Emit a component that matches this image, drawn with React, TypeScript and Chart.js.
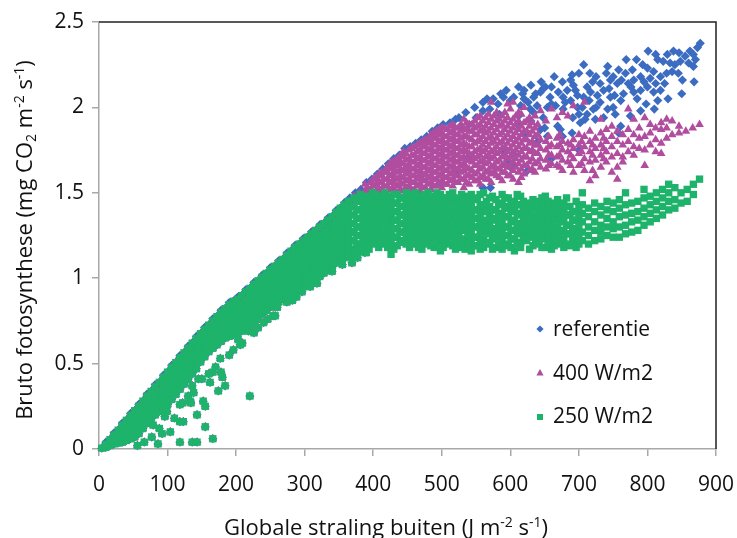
import React, { useEffect, useRef } from "react";
import { Chart, registerables } from "chart.js";

Chart.register(...registerables);

const FONT = '"Open Sans", "Noto Sans", sans-serif';

// ---- axes ----
const xMin = 0;
const xMax = 900;
const xStep = 100;
const yMin = 0;
const yMax = 2.5;
const yStep = 0.5;

const seriesLabels = ["referentie", "400 W/m2", "250 W/m2"];
const seriesColors = ["#3b6cc2", "#b04d9f", "#1db36a"];

// ---- shared low-light band (all three treatments coincide), columns: [x, ys] ----
const bandColumns: [number, number[]][] = [
  [4, [0.005]],
  [10, [0.01, 0.027]],
  [16, [0.02, 0.055]],
  [22, [0.03, 0.06, 0.083]],
  [28, [0.035, 0.07, 0.11]],
  [34, [0.04, 0.08, 0.11, 0.14]],
  [40, [0.05, 0.09, 0.13, 0.168]],
  [46, [0.06, 0.1, 0.14, 0.17, 0.196]],
  [52, [0.07, 0.11, 0.15, 0.19, 0.224]],
  [58, [0.09, 0.13, 0.17, 0.21, 0.25]],
  [64, [0.12, 0.16, 0.2, 0.24, 0.28]],
  [70, [0.15, 0.19, 0.23, 0.27, 0.31]],
  [76, [0.18, 0.22, 0.26, 0.3, 0.337]],
  [82, [0.2, 0.24, 0.28, 0.32, 0.365]],
  [88, [0.22, 0.26, 0.3, 0.34, 0.39]],
  [94, [0.24, 0.28, 0.32, 0.36, 0.39, 0.42]],
  [100, [0.26, 0.3, 0.34, 0.38, 0.42, 0.45]],
  [106, [0.29, 0.33, 0.37, 0.41, 0.44, 0.478]],
  [112, [0.32, 0.36, 0.4, 0.44, 0.47, 0.506]],
  [118, [0.35, 0.39, 0.43, 0.47, 0.5, 0.535]],
  [124, [0.38, 0.42, 0.46, 0.5, 0.53, 0.563]],
  [130, [0.41, 0.45, 0.49, 0.52, 0.56, 0.59]],
  [136, [0.44, 0.48, 0.52, 0.55, 0.59, 0.62]],
  [142, [0.47, 0.51, 0.55, 0.58, 0.61, 0.647]],
  [148, [0.51, 0.55, 0.58, 0.61, 0.645, 0.675]],
  [154, [0.54, 0.58, 0.61, 0.64, 0.67, 0.7]],
  [160, [0.57, 0.6, 0.64, 0.67, 0.7, 0.725]],
  [166, [0.59, 0.63, 0.67, 0.71, 0.75]],
  [172, [0.61, 0.65, 0.69, 0.73, 0.775]],
  [178, [0.63, 0.67, 0.7, 0.73, 0.77, 0.8]],
  [184, [0.65, 0.69, 0.72, 0.75, 0.79, 0.822]],
  [190, [0.66, 0.7, 0.74, 0.78, 0.81, 0.845]],
  [196, [0.67, 0.71, 0.75, 0.79, 0.83, 0.865]],
  [202, [0.68, 0.72, 0.76, 0.8, 0.84, 0.876]],
  [208, [0.69, 0.73, 0.77, 0.81, 0.85, 0.898]],
  [214, [0.71, 0.75, 0.79, 0.83, 0.87, 0.92]],
  [220, [0.72, 0.76, 0.8, 0.84, 0.88, 0.92, 0.94]],
  [226, [0.74, 0.78, 0.82, 0.86, 0.9, 0.93, 0.963]],
  [232, [0.76, 0.8, 0.84, 0.88, 0.92, 0.95, 0.985]],
  [238, [0.79, 0.83, 0.87, 0.91, 0.95, 0.98, 1.006]],
  [244, [0.81, 0.85, 0.89, 0.93, 0.97, 1.0, 1.028]],
  [250, [0.83, 0.87, 0.91, 0.95, 0.99, 1.02, 1.05]],
  [256, [0.84, 0.88, 0.92, 0.96, 1.0, 1.04, 1.07]],
  [262, [0.86, 0.9, 0.94, 0.98, 1.02, 1.06, 1.09]],
  [268, [0.88, 0.92, 0.96, 1.0, 1.04, 1.08, 1.11]],
  [274, [0.89, 0.93, 0.97, 1.01, 1.05, 1.09, 1.135]],
  [280, [0.91, 0.95, 0.99, 1.03, 1.07, 1.11, 1.158]],
  [286, [0.92, 0.96, 1.0, 1.04, 1.08, 1.12, 1.15, 1.18]],
  [292, [0.94, 0.98, 1.02, 1.06, 1.1, 1.14, 1.17, 1.2]],
  [298, [0.95, 0.99, 1.03, 1.07, 1.11, 1.15, 1.19, 1.22]],
  [304, [0.97, 1.01, 1.05, 1.09, 1.13, 1.17, 1.21, 1.24]],
  [310, [0.98, 1.02, 1.06, 1.1, 1.14, 1.18, 1.22, 1.26]],
  [316, [1.0, 1.04, 1.08, 1.12, 1.16, 1.2, 1.24, 1.28]],
  [322, [1.01, 1.05, 1.09, 1.13, 1.17, 1.21, 1.25, 1.3]],
  [328, [1.03, 1.07, 1.11, 1.15, 1.19, 1.23, 1.27, 1.32]],
  [334, [1.05, 1.09, 1.13, 1.17, 1.21, 1.25, 1.29, 1.34]],
  [340, [1.07, 1.11, 1.15, 1.19, 1.23, 1.27, 1.31, 1.36]],
  [346, [1.09, 1.13, 1.17, 1.21, 1.25, 1.29, 1.33, 1.385]],
  [352, [1.11, 1.15, 1.19, 1.23, 1.27, 1.31, 1.35, 1.39, 1.41]],
  [358, [1.12, 1.16, 1.2, 1.24, 1.28, 1.32, 1.36, 1.4, 1.43]],
  [364, [1.13, 1.17, 1.21, 1.25, 1.29, 1.33, 1.37, 1.41, 1.45]],
];

// scattered low points below the band (all treatments)
const lowOutliers: [number, number][] = [
  [86, 0.03], [118, 0.04], [136, 0.04], [143, 0.04], [166, 0.06], [155, 0.13],
  [143, 0.2], [155, 0.25], [174, 0.34], [184, 0.37], [220, 0.31], [162, 0.39],
  [178, 0.45], [166, 0.45], [130, 0.31], [134, 0.27], [118, 0.16], [123, 0.16],
  [92, 0.09], [104, 0.1], [77, 0.07], [88, 0.12], [79, 0.14], [96, 0.19],
  [99, 0.22], [118, 0.26], [122, 0.27], [145, 0.41], [150, 0.41], [136, 0.37],
  [177, 0.53], [180, 0.42], [209, 0.62], [203, 0.64], [218, 0.69], [206, 0.61],
  [232, 0.71], [254, 0.78], [260, 0.83], [274, 0.86], [296, 0.92], [318, 0.97],
  [133, 0.28], [257, 0.78], [340, 1.04], [330, 1.05], [190, 0.55], [196, 0.58],
  [240, 0.74], [282, 0.87], [66, 0.04], [56, 0.02], [110, 0.18], [138, 0.33],
  [152, 0.28], [170, 0.48], [160, 0.44], [226, 0.68], [246, 0.76], [288, 0.89],
  [308, 0.95], [355, 1.08], [369, 1.09], [377, 1.12], [388, 1.15],
];

// ---- 250 W/m2 plateau ----
const greenColumns: [number, number[]][] = [
  [372, [1.13, 1.17, 1.22, 1.27, 1.32, 1.37, 1.42, 1.47]],
  [381, [1.16, 1.2, 1.25, 1.3, 1.35, 1.4, 1.45, 1.49]],
  [390, [1.15, 1.19, 1.24, 1.29, 1.34, 1.39, 1.44, 1.48]],
  [399, [1.22, 1.26, 1.31, 1.36, 1.41, 1.46, 1.5]],
  [408, [1.18, 1.23, 1.28, 1.33, 1.38, 1.43, 1.48]],
  [417, [1.2, 1.25, 1.3, 1.35, 1.4, 1.45, 1.5]],
  [426, [1.14, 1.21, 1.26, 1.31, 1.36, 1.41, 1.46]],
  [435, [1.19, 1.24, 1.29, 1.34, 1.39, 1.44, 1.49]],
  [444, [1.22, 1.27, 1.32, 1.37, 1.42, 1.47]],
  [453, [1.18, 1.23, 1.28, 1.33, 1.38, 1.43, 1.49]],
  [462, [1.2, 1.25, 1.3, 1.35, 1.4, 1.45, 1.5]],
  [471, [1.17, 1.22, 1.27, 1.32, 1.37, 1.42, 1.47]],
  [480, [1.21, 1.26, 1.31, 1.36, 1.41, 1.46, 1.5]],
  [489, [1.18, 1.23, 1.28, 1.33, 1.38, 1.43, 1.48]],
  [498, [1.16, 1.2, 1.25, 1.3, 1.35, 1.4, 1.45, 1.49]],
  [507, [1.22, 1.27, 1.32, 1.37, 1.42, 1.47]],
  [516, [1.19, 1.24, 1.29, 1.34, 1.39, 1.44, 1.5]],
  [525, [1.2, 1.26, 1.31, 1.36, 1.41, 1.46]],
  [534, [1.17, 1.22, 1.28, 1.33, 1.38, 1.43, 1.48]],
  [543, [1.16, 1.21, 1.27, 1.32, 1.37, 1.44, 1.49]],
  [552, [1.19, 1.24, 1.3, 1.35, 1.4, 1.46]],
  [561, [1.18, 1.23, 1.29, 1.34, 1.39, 1.43, 1.5]],
  [570, [1.2, 1.26, 1.31, 1.37, 1.42, 1.47]],
  [579, [1.18, 1.24, 1.28, 1.35, 1.4, 1.46]],
  [588, [1.17, 1.22, 1.27, 1.33, 1.38, 1.44, 1.49]],
  [597, [1.2, 1.25, 1.3, 1.36, 1.41, 1.47]],
  [606, [1.16, 1.23, 1.28, 1.34, 1.4, 1.45]],
  [615, [1.18, 1.21, 1.27, 1.32, 1.38, 1.43, 1.48]],
  [624, [1.22, 1.26, 1.31, 1.37, 1.42]],
  [633, [1.19, 1.25, 1.3, 1.35, 1.41, 1.46]],
  [642, [1.2, 1.24, 1.29, 1.34, 1.39, 1.45]],
  [651, [1.18, 1.23, 1.28, 1.33, 1.38, 1.43, 1.48]],
  [660, [1.17, 1.22, 1.27, 1.32, 1.37, 1.42]],
  [669, [1.2, 1.25, 1.3, 1.36, 1.41, 1.46]],
  [678, [1.18, 1.23, 1.28, 1.35, 1.4, 1.44]],
  [687, [1.19, 1.26, 1.31, 1.37, 1.42]],
  [696, [1.18, 1.24, 1.29, 1.34, 1.39, 1.45]],
  [705, [1.22, 1.27, 1.33, 1.38, 1.43, 1.5]],
  [714, [1.2, 1.25, 1.3, 1.36, 1.41]],
  [723, [1.22, 1.28, 1.33, 1.39, 1.44]],
  [732, [1.23, 1.27, 1.31, 1.37, 1.42]],
  [741, [1.25, 1.3, 1.35, 1.4, 1.45]],
  [750, [1.24, 1.29, 1.33, 1.39, 1.44]],
  [759, [1.24, 1.3, 1.36, 1.41, 1.46]],
  [768, [1.26, 1.31, 1.37, 1.43, 1.5]],
  [777, [1.27, 1.33, 1.38, 1.44]],
  [786, [1.28, 1.34, 1.39, 1.45]],
  [795, [1.31, 1.36, 1.41, 1.47, 1.52]],
  [804, [1.33, 1.38, 1.43, 1.48]],
  [813, [1.35, 1.4, 1.45, 1.5]],
  [822, [1.37, 1.42, 1.47, 1.52]],
  [831, [1.4, 1.45, 1.5, 1.55]],
  [840, [1.41, 1.46, 1.53]],
  [849, [1.44, 1.5]],
  [858, [1.45, 1.52]],
  [867, [1.49, 1.55]],
  [876, [1.58]],
];

// extra 250 W/m2 points between the columns above (dense part of the plateau)
const greenFill: [number, number[]][] = [
  [376, [1.15, 1.2, 1.25, 1.3, 1.35, 1.4, 1.45]],
  [385, [1.18, 1.23, 1.28, 1.33, 1.38, 1.43, 1.47]],
  [394, [1.17, 1.21, 1.27, 1.32, 1.37, 1.42, 1.46]],
  [403, [1.2, 1.24, 1.29, 1.34, 1.39, 1.44, 1.49]],
  [412, [1.21, 1.26, 1.31, 1.36, 1.41, 1.46]],
  [421, [1.18, 1.23, 1.28, 1.33, 1.38, 1.43, 1.48]],
  [430, [1.17, 1.24, 1.29, 1.34, 1.39, 1.44, 1.49]],
  [439, [1.21, 1.27, 1.32, 1.37, 1.42, 1.47]],
  [448, [1.2, 1.25, 1.3, 1.35, 1.4, 1.45, 1.5]],
  [457, [1.21, 1.26, 1.31, 1.36, 1.41, 1.46]],
  [466, [1.18, 1.23, 1.28, 1.33, 1.38, 1.43, 1.48]],
  [475, [1.2, 1.25, 1.3, 1.35, 1.4, 1.45, 1.49]],
  [484, [1.19, 1.24, 1.29, 1.34, 1.39, 1.44, 1.48]],
  [493, [1.21, 1.26, 1.31, 1.36, 1.41, 1.46, 1.5]],
  [502, [1.18, 1.23, 1.28, 1.33, 1.38, 1.43, 1.47]],
  [511, [1.2, 1.25, 1.3, 1.35, 1.4, 1.45, 1.49]],
  [520, [1.17, 1.22, 1.27, 1.32, 1.37, 1.42, 1.47]],
  [529, [1.18, 1.23, 1.29, 1.34, 1.39, 1.44, 1.49]],
  [538, [1.2, 1.25, 1.31, 1.36, 1.41, 1.46]],
  [547, [1.19, 1.24, 1.3, 1.35, 1.4, 1.47]],
  [556, [1.17, 1.22, 1.27, 1.33, 1.38, 1.43, 1.49]],
  [565, [1.21, 1.27, 1.33, 1.39, 1.45]],
  [574, [1.17, 1.23, 1.29, 1.34, 1.4, 1.48]],
  [583, [1.2, 1.26, 1.31, 1.37, 1.43]],
  [592, [1.19, 1.25, 1.3, 1.36, 1.42, 1.47]],
  [601, [1.18, 1.23, 1.28, 1.33, 1.39, 1.44]],
  [610, [1.2, 1.26, 1.31, 1.37, 1.43, 1.49]],
  [619, [1.24, 1.29, 1.35, 1.4, 1.45]],
  [628, [1.17, 1.24, 1.28, 1.33, 1.39, 1.44]],
  [637, [1.22, 1.27, 1.32, 1.37, 1.43]],
  [646, [1.18, 1.26, 1.31, 1.36, 1.41, 1.47]],
  [655, [1.2, 1.25, 1.3, 1.35, 1.4, 1.45]],
  [664, [1.19, 1.24, 1.29, 1.34, 1.39, 1.44]],
  [673, [1.22, 1.27, 1.33, 1.38, 1.43]],
  [682, [1.2, 1.26, 1.31, 1.37, 1.42, 1.47]],
  [691, [1.22, 1.28, 1.34, 1.39]],
  [700, [1.2, 1.26, 1.31, 1.36, 1.41]],
];

// ---- 400 W/m2 upper cloud ----
const magentaColumns: [number, number[]][] = [
  [372, [1.44, 1.48]],
  [380, [1.46, 1.5]],
  [388, [1.47, 1.51, 1.55]],
  [396, [1.48, 1.52, 1.56]],
  [404, [1.47, 1.51, 1.55, 1.59]],
  [412, [1.48, 1.52, 1.56, 1.6, 1.62]],
  [420, [1.5, 1.54, 1.58, 1.62, 1.65]],
  [428, [1.49, 1.53, 1.57, 1.61, 1.65, 1.68]],
  [436, [1.5, 1.54, 1.58, 1.62, 1.66, 1.7]],
  [444, [1.51, 1.55, 1.59, 1.63, 1.67, 1.71, 1.74]],
  [452, [1.5, 1.54, 1.58, 1.62, 1.66, 1.7, 1.75]],
  [460, [1.52, 1.56, 1.6, 1.64, 1.68, 1.72, 1.77]],
  [468, [1.51, 1.55, 1.59, 1.63, 1.67, 1.71, 1.75, 1.79]],
  [476, [1.53, 1.57, 1.61, 1.65, 1.69, 1.73, 1.77, 1.81]],
  [484, [1.52, 1.56, 1.6, 1.64, 1.68, 1.72, 1.76, 1.8, 1.84]],
  [492, [1.54, 1.58, 1.62, 1.66, 1.7, 1.74, 1.78, 1.82, 1.86]],
  [500, [1.53, 1.57, 1.61, 1.65, 1.69, 1.73, 1.77, 1.81, 1.85, 1.88]],
  [508, [1.55, 1.59, 1.63, 1.67, 1.71, 1.75, 1.79, 1.83, 1.87]],
  [516, [1.54, 1.58, 1.62, 1.66, 1.7, 1.74, 1.78, 1.82, 1.86, 1.9]],
  [524, [1.56, 1.6, 1.64, 1.68, 1.72, 1.76, 1.8, 1.84, 1.88]],
  [532, [1.53, 1.58, 1.63, 1.67, 1.71, 1.75, 1.79, 1.83, 1.87, 1.93]],
  [540, [1.55, 1.6, 1.64, 1.69, 1.73, 1.77, 1.82, 1.86, 1.9]],
  [548, [1.57, 1.61, 1.66, 1.7, 1.74, 1.79, 1.84, 1.88, 1.92]],
  [556, [1.55, 1.59, 1.64, 1.68, 1.72, 1.76, 1.81, 1.86, 1.9, 1.95]],
  [564, [1.58, 1.62, 1.67, 1.71, 1.75, 1.8, 1.85, 1.89, 1.94]],
  [572, [1.56, 1.61, 1.65, 1.7, 1.74, 1.79, 1.83, 1.88, 1.93, 2.03]],
  [580, [1.6, 1.64, 1.68, 1.73, 1.77, 1.82, 1.87, 1.92, 1.97]],
  [588, [1.57, 1.62, 1.66, 1.71, 1.76, 1.8, 1.85, 1.9, 1.95]],
  [596, [1.6, 1.65, 1.7, 1.74, 1.79, 1.84, 1.89, 1.94, 2.02]],
  [604, [1.58, 1.63, 1.68, 1.73, 1.78, 1.83, 1.88, 1.93, 2.03]],
  [612, [1.56, 1.62, 1.67, 1.72, 1.77, 1.82, 1.87, 1.92, 1.97]],
  [620, [1.61, 1.66, 1.71, 1.76, 1.81, 1.86, 1.91, 2.0]],
  [628, [1.63, 1.68, 1.74, 1.79, 1.84, 1.89, 1.94]],
  [636, [1.62, 1.67, 1.73, 1.78, 1.83, 1.88, 1.95]],
  [644, [1.65, 1.7, 1.76, 1.81, 1.98]],
  [652, [1.64, 1.69, 1.75, 1.8, 1.92]],
  [660, [1.67, 1.72, 1.78, 1.99]],
  [668, [1.66, 1.71, 1.77, 1.82, 1.94]],
  [676, [1.63, 1.69, 1.75, 1.8, 1.97]],
  [684, [1.68, 1.74, 1.79, 1.95]],
  [692, [1.62, 1.7, 1.76, 1.81, 2.01]],
  [700, [1.66, 1.73, 1.78, 1.84]],
  [708, [1.63, 1.7, 1.77, 1.83, 2.03]],
  [716, [1.57, 1.68, 1.74, 1.8, 1.86]],
  [724, [1.6, 1.69, 1.76, 1.82]],
  [732, [1.65, 1.72, 1.78, 1.85, 1.93]],
  [740, [1.68, 1.74, 1.8, 1.87]],
  [748, [1.62, 1.71, 1.77, 1.83, 1.89]],
  [756, [1.58, 1.65, 1.73, 1.8, 1.86]],
  [764, [1.68, 1.71, 1.78, 1.84]],
  [772, [1.74, 1.8, 1.87, 1.99]],
  [780, [1.72, 1.77, 1.84, 1.93]],
  [788, [1.76, 1.82, 1.88]],
  [796, [1.66, 1.75, 1.83, 1.94]],
  [804, [1.78, 1.85, 1.9]],
  [812, [1.74, 1.81, 1.88]],
  [820, [1.73, 1.79, 1.87, 1.91]],
  [828, [1.82, 1.88, 1.93]],
  [836, [1.84, 1.92]],
  [846, [1.85, 1.89]],
  [856, [1.86]],
  [866, [1.88]],
  [876, [1.9]],
];

// extra 400 W/m2 points between the columns above (dense part of the cloud)
const magentaFill: [number, number[]][] = [
  [392, [1.49, 1.53]],
  [400, [1.5, 1.54, 1.58]],
  [408, [1.5, 1.53, 1.57, 1.61]],
  [416, [1.5, 1.54, 1.58, 1.62]],
  [424, [1.52, 1.56, 1.6, 1.64, 1.67]],
  [432, [1.51, 1.55, 1.59, 1.63, 1.67, 1.69]],
  [440, [1.52, 1.56, 1.6, 1.64, 1.68, 1.72]],
  [448, [1.53, 1.57, 1.61, 1.65, 1.69, 1.73]],
  [456, [1.52, 1.56, 1.6, 1.64, 1.68, 1.72, 1.76]],
  [464, [1.54, 1.58, 1.62, 1.66, 1.7, 1.74, 1.78]],
  [472, [1.53, 1.57, 1.61, 1.65, 1.69, 1.73, 1.77, 1.8]],
  [480, [1.55, 1.59, 1.63, 1.67, 1.71, 1.75, 1.79, 1.82]],
  [488, [1.54, 1.58, 1.62, 1.66, 1.7, 1.74, 1.78, 1.82, 1.85]],
  [496, [1.56, 1.6, 1.64, 1.68, 1.72, 1.76, 1.8, 1.84, 1.87]],
  [504, [1.55, 1.59, 1.63, 1.67, 1.71, 1.75, 1.79, 1.83, 1.88]],
  [512, [1.57, 1.61, 1.65, 1.69, 1.73, 1.77, 1.81, 1.85, 1.89]],
  [520, [1.56, 1.6, 1.64, 1.68, 1.72, 1.76, 1.8, 1.84, 1.88]],
  [528, [1.58, 1.62, 1.66, 1.7, 1.74, 1.78, 1.82, 1.86, 1.9]],
  [536, [1.56, 1.6, 1.65, 1.69, 1.74, 1.78, 1.83, 1.87, 1.91]],
  [544, [1.59, 1.63, 1.68, 1.72, 1.77, 1.81, 1.86, 1.9]],
  [552, [1.57, 1.62, 1.66, 1.71, 1.75, 1.8, 1.84, 1.89, 1.94]],
  [560, [1.6, 1.65, 1.69, 1.74, 1.78, 1.83, 1.87, 1.92]],
  [568, [1.58, 1.63, 1.68, 1.72, 1.77, 1.82, 1.86, 1.91, 1.96]],
  [576, [1.62, 1.66, 1.71, 1.75, 1.8, 1.85, 1.9, 1.95]],
  [584, [1.59, 1.64, 1.69, 1.74, 1.79, 1.84, 1.89, 1.93]],
  [592, [1.62, 1.67, 1.72, 1.77, 1.82, 1.87, 1.92, 1.97]],
  [600, [1.6, 1.66, 1.71, 1.76, 1.81, 1.86, 1.91, 1.99]],
  [608, [1.65, 1.7, 1.75, 1.8, 1.85, 1.9, 1.95]],
  [616, [1.59, 1.64, 1.69, 1.74, 1.79, 1.84, 1.89, 1.96]],
  [624, [1.66, 1.71, 1.76, 1.81, 1.86, 1.92]],
  [632, [1.64, 1.7, 1.75, 1.8, 1.86, 1.91]],
  [640, [1.68, 1.73, 1.78, 1.84, 1.9]],
  [656, [1.66, 1.72, 1.77, 1.83]],
  [672, [1.65, 1.72, 1.78, 1.84]],
  [688, [1.66, 1.72, 1.78]],
  [704, [1.67, 1.74, 1.8]],
  [720, [1.63, 1.72, 1.78]],
  [736, [1.7, 1.76, 1.82]],
];

// ---- referentie: top edge of the band and upper cloud ----
const blueTopEdge: [number, number][] = [
  [10, 0.04], [22, 0.095], [34, 0.152], [46, 0.208], [58, 0.262], [70, 0.322],
  [82, 0.377], [94, 0.432], [106, 0.49], [118, 0.547], [130, 0.602], [142, 0.659],
  [154, 0.712], [166, 0.762], [178, 0.812], [190, 0.857], [202, 0.888], [214, 0.932],
  [226, 0.975], [238, 1.018], [250, 1.062], [262, 1.102], [274, 1.147], [286, 1.192],
  [298, 1.232], [310, 1.272], [322, 1.312], [334, 1.352], [346, 1.397], [358, 1.442],
  [366, 1.47],
];

const blueEdge: [number, number][] = [
  [374, 1.5], [382, 1.52], [390, 1.56], [398, 1.58], [406, 1.61], [414, 1.64],
  [422, 1.67], [430, 1.7], [438, 1.72], [446, 1.76], [454, 1.77], [462, 1.79],
  [470, 1.81], [478, 1.83], [486, 1.86], [494, 1.88], [502, 1.9], [512, 1.91],
  [520, 1.93],
];

const blueInner: [number, number][] = [
  [470, 1.6], [500, 1.55], [560, 1.53], [571, 1.53], [600, 1.65], [625, 1.63],
  [540, 1.7], [590, 1.75], [660, 1.7], [640, 1.8], [700, 1.75], [520, 1.62],
  [450, 1.65], [610, 1.9], [650, 1.88], [690, 1.85],
];

const blueUpper: [number, number][] = [
  [877, 2.375], [873, 2.35], [867, 2.31], [855, 2.3], [838, 2.33], [829, 2.31],
  [823, 2.27], [833, 2.26], [845, 2.2], [836, 2.21], [867, 2.24], [815, 2.28],
  [801, 2.33], [784, 2.28], [769, 2.28], [793, 2.25], [800, 2.23], [809, 2.21],
  [819, 2.18], [804, 2.17], [790, 2.18], [780, 2.16], [772, 2.14], [758, 2.22],
  [750, 2.18], [756, 2.14], [746, 2.16], [731, 2.14], [720, 2.15], [707, 2.25],
  [736, 2.1], [727, 2.07], [717, 2.09], [707, 2.06], [698, 2.07], [688, 2.04],
  [677, 2.06], [683, 2.1], [676, 2.15], [688, 2.16], [692, 2.13], [648, 2.11],
  [644, 2.09], [658, 2.06], [634, 2.06], [618, 2.08], [626, 2.03], [639, 2.01],
  [615, 2.01], [800, 2.12], [790, 2.1], [809, 2.09], [819, 2.1], [780, 2.09],
  [765, 2.08], [761, 2.04], [746, 2.06], [731, 2.03], [721, 1.99], [712, 1.96],
  [742, 1.99], [750, 2.0], [753, 1.96], [736, 1.94], [724, 1.93], [761, 1.89],
  [758, 1.85], [705, 2.0], [698, 2.0], [709, 1.93], [702, 1.91], [691, 1.94],
  [677, 1.99], [666, 2.01], [654, 2.0], [669, 1.89], [673, 1.87], [676, 1.83],
  [644, 1.87], [654, 1.83], [622, 1.85], [604, 1.66], [596, 1.69], [604, 1.73],
  [648, 1.94], [634, 1.97], [651, 2.12], [600, 2.04], [629, 1.99], [525, 1.94],
  [535, 1.97], [548, 2.0], [560, 2.03], [575, 2.05], [590, 2.06],
];

// more referentie points spread through the upper cloud
const blueCloud: [number, number][] = [
  [560, 1.98], [566, 2.05], [582, 2.02], [586, 2.08], [594, 2.1], [605, 2.06],
  [612, 2.12], [620, 2.1], [630, 2.13], [637, 2.08], [645, 2.15], [660, 2.12],
  [664, 2.18], [670, 2.09], [680, 2.03], [695, 2.1], [700, 2.2], [712, 2.12],
  [715, 2.04], [725, 2.18], [740, 2.2], [744, 2.11], [752, 2.07], [762, 2.16],
  [768, 2.2], [776, 2.12], [785, 2.05], [795, 2.15], [798, 2.02], [812, 2.14],
  [815, 2.04], [825, 2.14], [828, 2.2], [840, 2.25], [848, 2.27], [851, 2.16],
  [860, 2.26], [862, 2.33], [870, 2.28], [846, 2.32], [812, 2.31], [778, 2.22],
  [742, 2.24], [716, 2.2], [690, 2.19], [660, 2.02], [630, 1.92], [612, 1.95],
  [584, 1.96], [570, 1.99], [550, 1.94], [540, 1.9], [530, 1.88], [620, 2.05],
  [700, 1.96], [725, 2.0], [775, 1.95], [790, 1.98], [810, 1.99], [830, 2.05],
  [850, 2.08], [868, 2.15],
];

// ---- helpers ----
function expand(cols: [number, number[]][]) {
  const out: { x: number; y: number }[] = [];
  for (const [x, ys] of cols) for (const y of ys) out.push({ x, y });
  return out;
}
function pts(list: [number, number][]) {
  return list.map(([x, y]) => ({ x, y }));
}

type Seg = { t: string; k?: "sup" | "sub" };

function drawRich(ctx: CanvasRenderingContext2D, segs: Seg[], cx: number, y: number, size: number) {
  const fN = `${size}px ${FONT}`;
  const fS = `${Math.round(size * 0.64)}px ${FONT}`;
  let w = 0;
  for (const s of segs) {
    ctx.font = s.k ? fS : fN;
    w += ctx.measureText(s.t).width;
  }
  let x = cx - w / 2;
  ctx.textAlign = "left";
  ctx.textBaseline = "alphabetic";
  for (const s of segs) {
    ctx.font = s.k ? fS : fN;
    const dy = s.k === "sup" ? -size * 0.36 : s.k === "sub" ? size * 0.2 : 0;
    ctx.fillText(s.t, x, y + dy);
    x += ctx.measureText(s.t).width;
  }
}

const xTitle: Seg[] = [
  { t: "Globale straling buiten (J m" },
  { t: "-2", k: "sup" },
  { t: " s" },
  { t: "-1", k: "sup" },
  { t: ")" },
];
const yTitle: Seg[] = [
  { t: "Bruto fotosynthese (mg CO" },
  { t: "2", k: "sub" },
  { t: " m" },
  { t: "-2", k: "sup" },
  { t: " s" },
  { t: "-1", k: "sup" },
  { t: ")" },
];

const decorPlugin = {
  id: "decor",
  afterDraw(chart: any) {
    const ctx: CanvasRenderingContext2D = chart.ctx;
    const { left, right, top, bottom } = chart.chartArea;
    ctx.save();
    // frame (top and right)
    ctx.strokeStyle = "#222222";
    ctx.lineWidth = 1.5;
    ctx.beginPath();
    ctx.moveTo(left, top);
    ctx.lineTo(right, top);
    ctx.lineTo(right, bottom);
    ctx.stroke();

    // axis titles
    ctx.fillStyle = "#111111";
    drawRich(ctx, xTitle, 386, 535, 22);
    ctx.save();
    ctx.translate(32, 240);
    ctx.rotate(-Math.PI / 2);
    drawRich(ctx, yTitle, 0, 0, 22);
    ctx.restore();

    // legend
    const lx = 540;
    const rows = [329, 373, 417];
    ctx.fillStyle = seriesColors[0];
    ctx.beginPath();
    ctx.moveTo(lx, rows[0] - 3.6);
    ctx.lineTo(lx + 3.6, rows[0]);
    ctx.lineTo(lx, rows[0] + 3.6);
    ctx.lineTo(lx - 3.6, rows[0]);
    ctx.closePath();
    ctx.fill();
    ctx.fillStyle = seriesColors[1];
    ctx.beginPath();
    ctx.moveTo(lx, rows[1] - 4);
    ctx.lineTo(lx + 3.6, rows[1] + 2.6);
    ctx.lineTo(lx - 3.6, rows[1] + 2.6);
    ctx.closePath();
    ctx.fill();
    ctx.fillStyle = seriesColors[2];
    ctx.fillRect(lx - 3, rows[2] - 3, 6, 6);

    ctx.fillStyle = "#111111";
    ctx.font = `21px ${FONT}`;
    ctx.textAlign = "left";
    ctx.textBaseline = "alphabetic";
    ctx.fillText(seriesLabels[0], 553, 336);
    ctx.fillText(seriesLabels[1], 553, 380);
    ctx.fillText(seriesLabels[2], 553, 423);
    ctx.restore();
  },
};

export default function App() {
  const ref = useRef<HTMLCanvasElement | null>(null);

  useEffect(() => {
    if (!ref.current) return;
    const blueData = [
      ...expand(bandColumns),
      ...pts(lowOutliers),
      ...pts(blueTopEdge),
      ...pts(blueEdge),
      ...pts(blueInner),
      ...pts(blueUpper),
      ...pts(blueCloud),
    ];
    const magentaData = [
      ...expand(bandColumns),
      ...pts(lowOutliers),
      ...expand(magentaColumns),
      ...expand(magentaFill),
    ];
    const greenData = [
      ...expand(bandColumns),
      ...pts(lowOutliers),
      ...expand(greenColumns),
      ...expand(greenFill),
    ];

    const tickFont = { family: FONT, size: 21 };
    const axisGrid = {
      display: true,
      drawOnChartArea: false,
      drawTicks: true,
      tickLength: 7,
      color: "#a8a8a8",
      lineWidth: 1.5,
    };
    const chart = new Chart(ref.current, {
      type: "scatter",
      data: {
        datasets: [
          {
            label: seriesLabels[0],
            data: blueData,
            pointStyle: "rectRot",
            pointRadius: 4.6,
            pointBorderWidth: 0,
            backgroundColor: seriesColors[0],
            borderColor: seriesColors[0],
            order: 2,
            clip: false,
          },
          {
            label: seriesLabels[1],
            data: magentaData,
            pointStyle: "triangle",
            pointRadius: 5,
            pointBorderWidth: 0,
            backgroundColor: seriesColors[1],
            borderColor: seriesColors[1],
            order: 1,
            clip: false,
          },
          {
            label: seriesLabels[2],
            data: greenData,
            pointStyle: "rect",
            pointRadius: 5.2,
            pointBorderWidth: 0,
            backgroundColor: seriesColors[2],
            borderColor: seriesColors[2],
            order: 0,
            clip: false,
          },
        ],
      },
      options: {
        responsive: false,
        animation: false,
        devicePixelRatio: 1,
        events: [],
        layout: { padding: { left: 0, right: 21, top: 22, bottom: 0 } },
        plugins: {
          legend: { display: false },
          tooltip: { enabled: false },
          title: { display: false },
        },
        scales: {
          x: {
            type: "linear",
            min: xMin,
            max: xMax,
            afterFit: (s: any) => {
              s.height = 89;
              s.paddingLeft = 0;
              s.paddingRight = 0;
            },
            ticks: { stepSize: xStep, font: tickFont, color: "#111111", padding: 16, maxRotation: 0 },
            grid: axisGrid,
            border: { display: true, color: "#a8a8a8", width: 1.5 },
          },
          y: {
            type: "linear",
            min: yMin,
            max: yMax,
            afterFit: (s: any) => {
              s.width = 99;
              s.paddingTop = 0;
              s.paddingBottom = 0;
            },
            ticks: {
              stepSize: yStep,
              font: tickFont,
              color: "#111111",
              padding: 8,
              callback: (v: any) => String(Number(v)),
            },
            grid: axisGrid,
            border: { display: true, color: "#a8a8a8", width: 1.5 },
          },
        },
      },
      plugins: [decorPlugin],
    });
    return () => chart.destroy();
  }, []);

  return (
    <div style={{ position: "fixed", left: 0, top: 0, width: 737, height: 538, background: "#fff" }}>
      <canvas ref={ref} width={737} height={538} style={{ width: 737, height: 538 }} />
    </div>
  );
}
